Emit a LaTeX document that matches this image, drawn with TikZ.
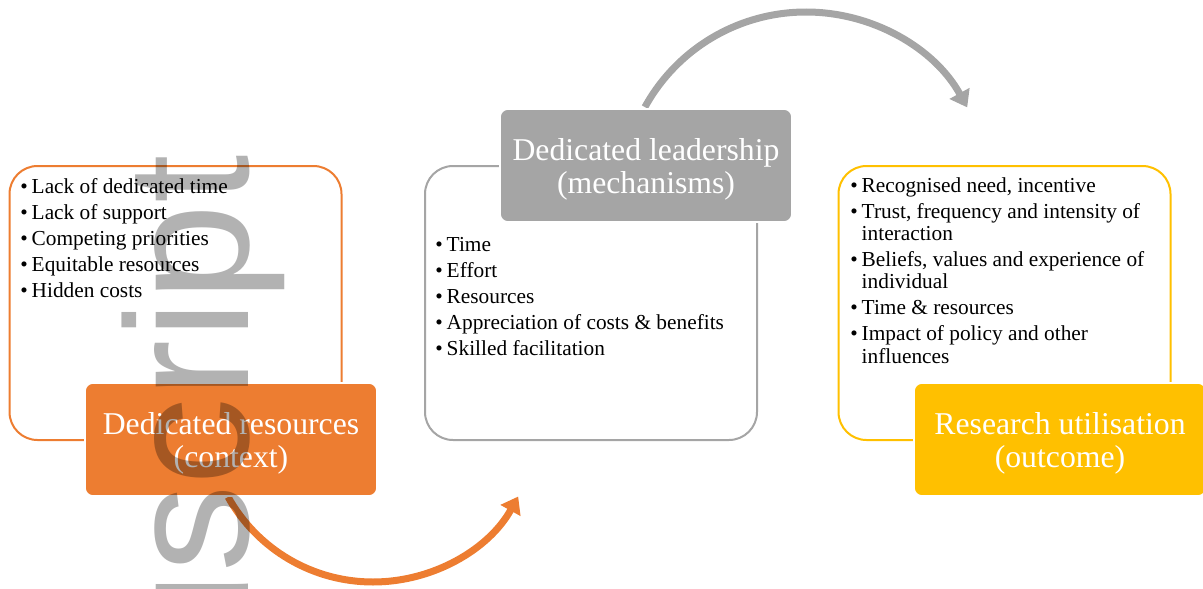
\documentclass[tikz,border=0pt]{standalone}
\usepackage{fontspec}
\setmainfont{Liberation Serif}
\newfontfamily\wmfont{Liberation Sans}
\usetikzlibrary{arrows.meta}
\definecolor{corange}{HTML}{ED7D31}
\definecolor{cgray}{HTML}{A5A5A5}
\definecolor{cyellow}{HTML}{FFC000}
\newcommand{\bul}{\makebox[8.6pt][l]{\textbullet}}
\newcommand{\itmf}[1]{\hyphenpenalty=10000\exhyphenpenalty=10000\setlength{\parskip}{2.8pt}\noindent\hangindent=8.6pt\hangafter=1\bul#1}
\newcommand{\itm}[1]{\par\noindent\hangindent=8.6pt\hangafter=1\bul#1}
\begin{document}
\begin{tikzpicture}[x=0.75pt,y=-0.75pt,
  listbox/.style={draw=#1, line width=1.5pt, rounded corners=21pt, minimum width=249pt, minimum height=205.5pt, inner sep=0pt, fill=white},
  headbox/.style={fill=#1, draw=white, line width=1.2pt, rounded corners=6pt, minimum width=219pt, minimum height=84.75pt, inner sep=0pt},
  headtext/.style={inner sep=0pt, text=white, align=center, font=\fontsize{23.8pt}{24.6pt}\selectfont},
  listtext/.style={anchor=base west, inner sep=0pt, text width=#1, align=flush left, font=\fontsize{16pt}{16.7pt}\selectfont},
  arcarrow/.style={draw=#1, line width=5.25pt, -{Triangle[length=12pt,width=16.5pt]}},
  watermark/.style={rotate=90, anchor=base east, inner sep=0pt, text=black, opacity=0.3, text opacity=0.3, font=\fontsize{131pt}{131pt}\wmfont}
]
\useasboundingbox (0,0) rectangle (1203,589);
\clip (0,0) rectangle (1203,589);

% arc arrows
\coordinate (o0) at (228.1,497.0);
\coordinate (o1) at (373,582);
\coordinate (o2) at (518.2,496.5);
\draw[arcarrow=corange] (o0) .. controls (257.5,549.6) and (312.8,582) .. (o1)
  .. controls (433.2,582) and (489.0,549.2) .. (o2);
\coordinate (g0) at (644.9,107.1);
\coordinate (g1) at (806,12);
\coordinate (g2) at (967.2,107.4);
\draw[arcarrow=cgray] (g0) .. controls (677.3,48.3) and (738.9,12) .. (g1)
  .. controls (873.1,12) and (934.9,48.6) .. (g2);

% outline boxes
\node[listbox=corange] (ctxbox) at (175.5,303) {};
\node[listbox=cgray] (mechbox) at (591,303) {};
\node[listbox=cyellow] (outbox) at (1004.5,303) {};

% list texts
\node[listtext=234pt] (ctxlist) at (20,193.3) {\itmf{Lack of dedicated time}\itm{Lack of support}\itm{Competing priorities}\itm{Equitable resources}\itm{Hidden costs}\par};
\node[listtext=234pt] (mechlist) at (435,251.7) {\itmf{Time}\itm{Effort}\itm{Resources}\itm{Appreciation of costs \& benefits}\itm{Skilled facilitation}\par};
\node[listtext=232pt] (outlist) at (850,192.3) {\itmf{Recognised need, incentive}\itm{Trust, frequency and intensity of interaction}\itm{Beliefs, values and experience of individual}\itm{Time \& resources}\itm{Impact of policy and other influences}\par};

% heading boxes
\node[headbox=corange] (ctx) at (231,439.5) {};
\node[headbox=cgray] (mech) at (646,165.5) {};
\node[headbox=cyellow] (out) at (1060,439.5) {};
\node[headtext] (ctxt) at (231,443.5) {Dedicated resources\\(context)};
\node[headtext] (mecht) at (646,169.5) {Dedicated leadership\\(mechanisms)};
\node[headtext] (outt) at (1060,443.5) {Research utilisation\\(outcome)};

% watermark
\node[watermark] (wm) at (248,155) {Manuscript};
\end{tikzpicture}
\end{document}
